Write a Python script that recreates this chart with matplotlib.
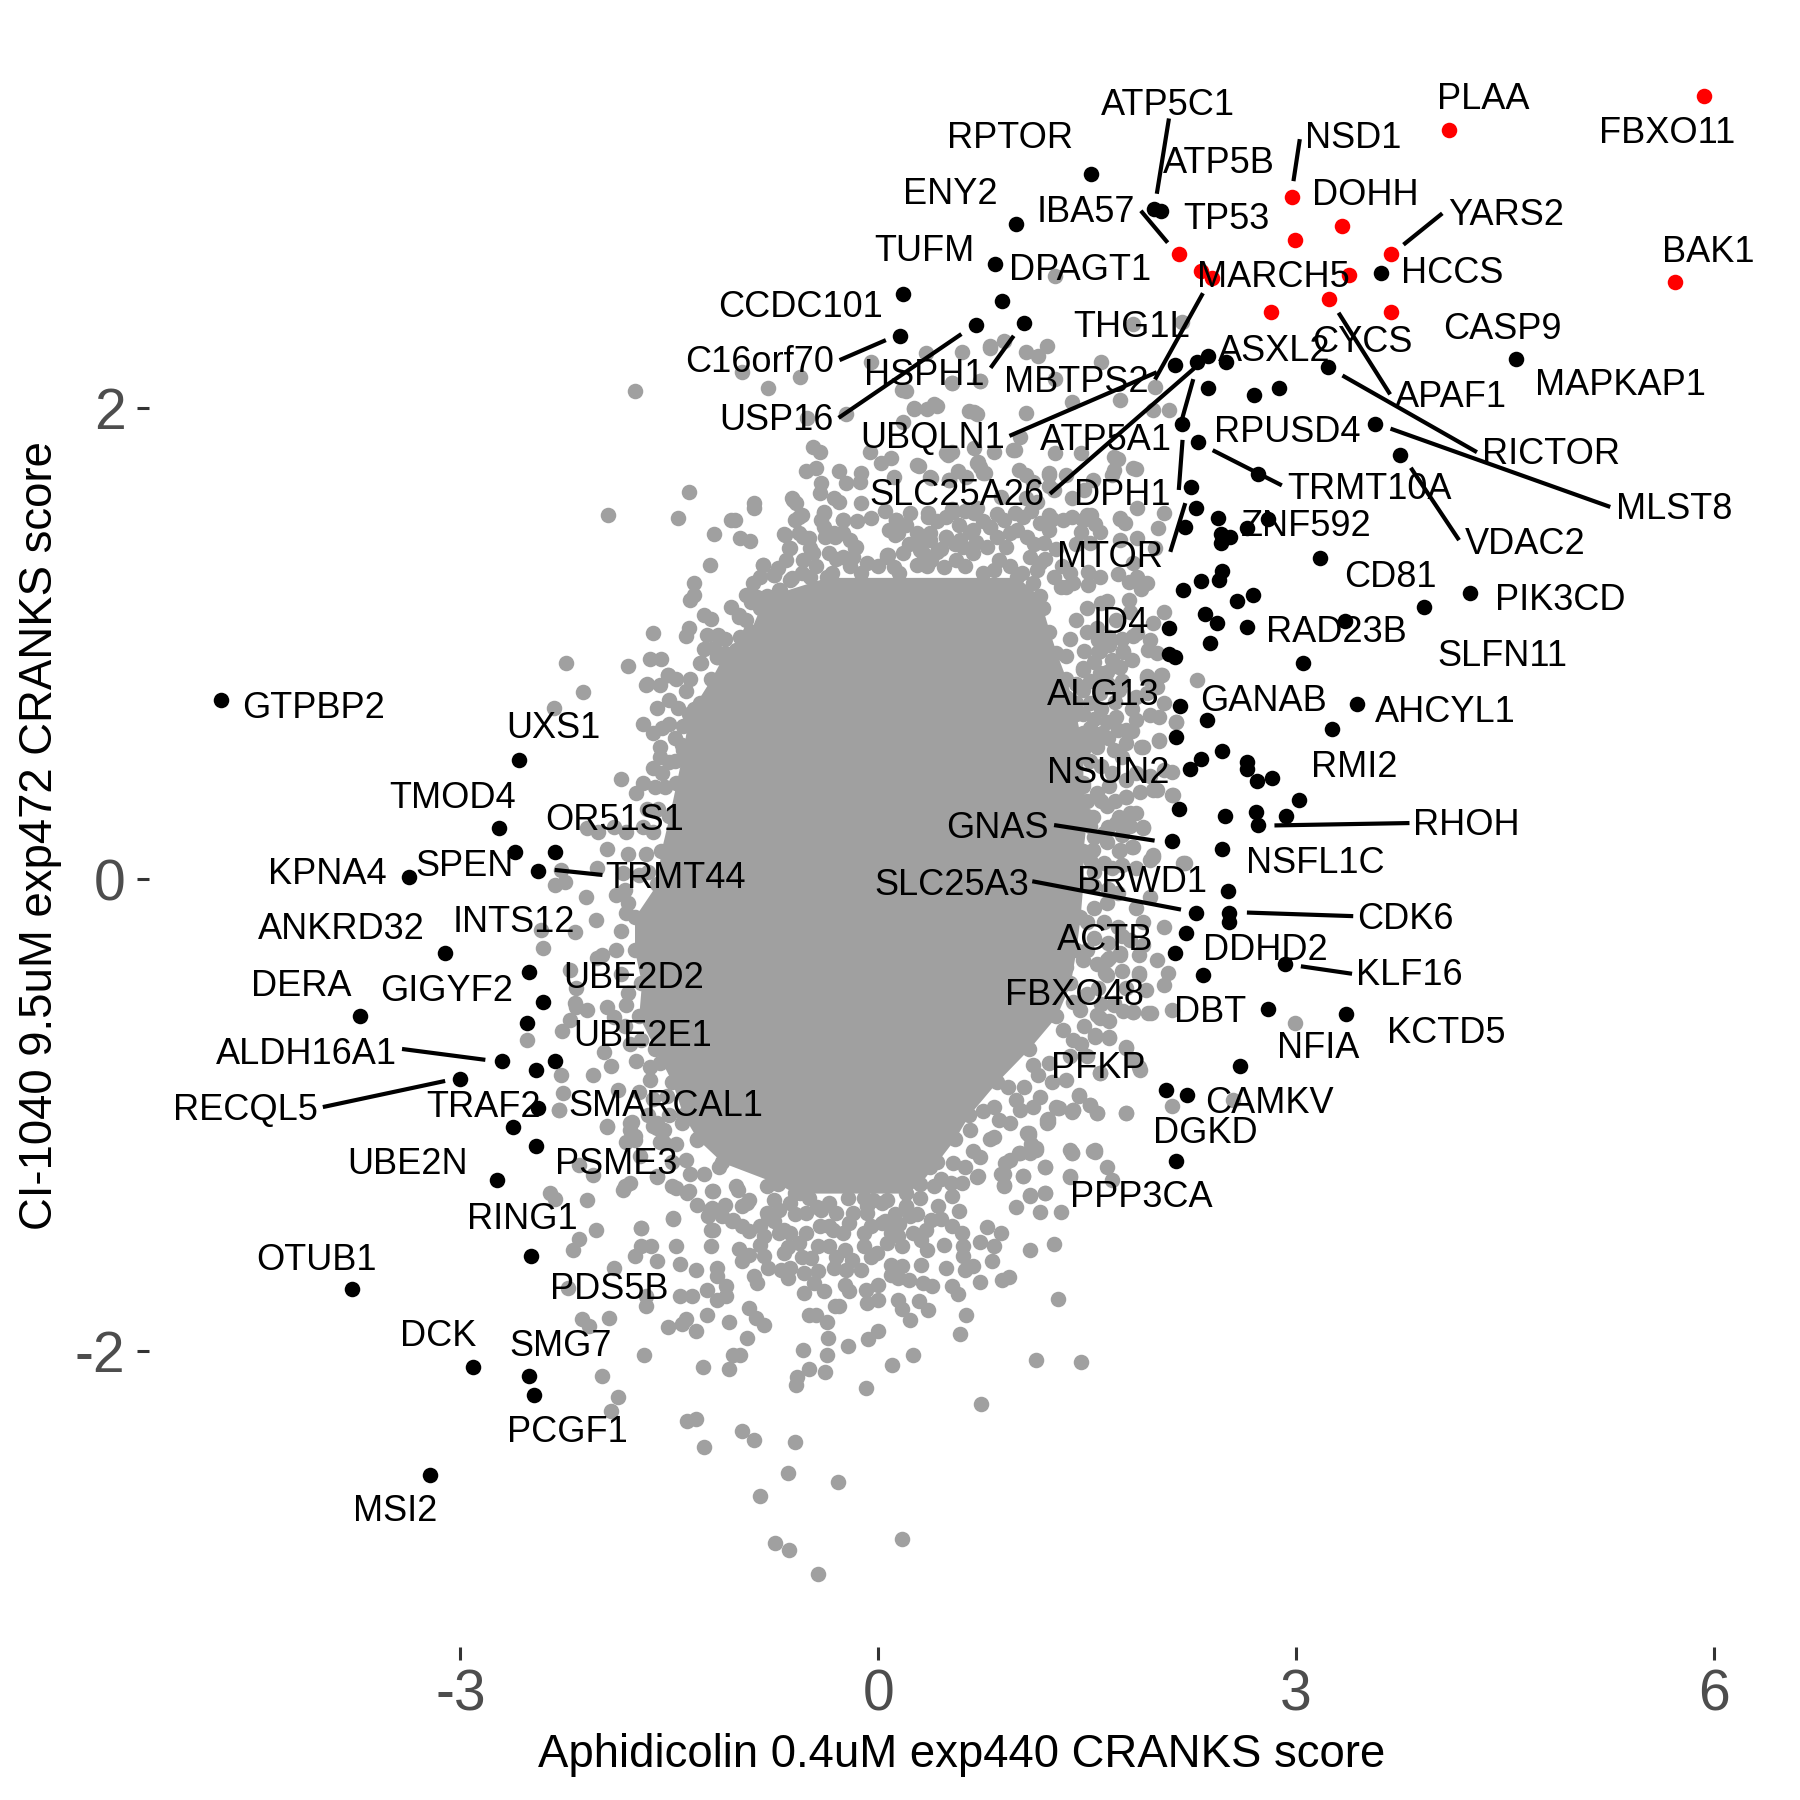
import matplotlib
matplotlib.use('Agg')
import matplotlib.pyplot as plt
from matplotlib.transforms import Affine2D
import numpy as np

plt.rcParams['font.family'] = ['Liberation Sans', 'DejaVu Sans']

# dense middle of the cloud, read row by row: y, left edge, right edge
core_y = [1.28, 1.2, 1.15, 1.05, 0.96, 0.85, 0.7, 0.55, 0.41, 0.27, 0.12, -0.02, -0.16, -0.30,
          -0.44, -0.58, -0.72, -0.86, -1.0, -1.1, -1.2, -1.29, -1.33]
core_left = [-0.37, -0.80, -0.85, -0.92, -1.10, -1.20, -1.36, -1.40, -1.45, -1.50, -1.56, -1.59,
             -1.75, -1.75, -1.70, -1.72, -1.60, -1.48, -1.40, -1.30, -1.12, -0.72, -0.60]
core_right = [1.0, 1.16, 1.18, 1.23, 1.28, 1.35, 1.42, 1.47, 1.47, 1.5, 1.47, 1.47,
              1.45, 1.42, 1.38, 1.28, 1.08, 0.85, 0.65, 0.55, 0.42, 0.30, 0.20]

# grey genes around the core
grey_top = [(-1.75,2.072),(-0.98,2.152),(-0.79,2.082),(-0.56,2.131),(-0.23,1.973),(-0.51,1.954),(-0.05,2.195),(0.17,2.074),
            (0.53,2.103),(0.73,2.113),(0.34,2.23),(0.60,2.237),(0.80,2.251),(0.26,1.992),(0.35,1.992),(0.42,2.007),
            (0.65,1.985),(0.71,1.971),(0.18,1.94),(-0.47,1.834),(-0.42,1.813),(-0.52,1.733),(-0.45,1.742),(-0.28,1.733),
            (-0.12,1.721),(-0.13,1.686),(-0.23,1.679),(-0.41,1.682),(-0.42,1.639),(-0.32,1.615),(-0.28,1.601),(-0.12,1.594),
            (-0.05,1.53),(-0.25,1.523),(-0.39,1.559),(-0.41,1.523),(-0.62,1.615),(-0.59,1.594),(-0.60,1.523),(-0.55,1.545),
            (-0.89,1.594),(-0.89,1.573),(-1.06,1.523),(-1.03,1.523),(-1.36,1.643),(-1.44,1.533),(-1.94,1.543),(-1.18,1.463),
            (-0.99,1.446),(-0.92,1.434),(-0.68,1.463),(-0.57,1.467),(-0.50,1.446),(-0.64,1.403),(-0.49,1.403),(-1.21,1.333),
            (-0.83,1.333),(-0.75,1.290),(-0.72,1.318),(-0.90,1.255),(-0.71,1.227),(-0.62,1.276),(-1.32,1.255),(-1.35,1.184),
            (-1.32,1.205),(-0.95,1.205),(-0.91,1.177),(-0.87,1.198),(-1.06,1.156),(-1.00,1.114),(-1.20,1.104),(-1.36,1.064),
            (-1.38,1.032),(-1.62,1.046),(-1.23,1.036),(-1.15,1.036),(-0.99,1.029),(-0.89,1.047),(-1.64,0.934),(-1.56,0.934),
            (-1.80,0.906),(-2.24,0.916),(-2.12,0.796),(-1.51,0.866),(-1.67,0.824),(-1.57,0.824),(-1.25,0.975),(-1.16,0.944),
            (-1.27,0.916),(-1.06,0.923),(-1.02,0.972),(-0.06,1.813),(0.02,1.764),(0.09,1.785),(0.29,1.754),(0.11,1.707),
            (0.38,1.700),(0.51,1.693),(0.50,1.799),(0.72,1.771),(0.77,1.721),(0.63,1.707),(0.71,1.573),(0.54,1.559),
            (0.13,1.523),(0.14,1.467),(0.30,1.439),(0.37,1.467),(0.49,1.453),(0.49,1.538),(0.36,1.552),(0.23,1.552),
            (0.07,1.375),(-0.16,1.410),(-0.18,1.368),(-0.25,1.467),(-0.32,1.467),(0.32,1.382),(0.38,1.354),(0.66,1.474),
            (0.80,1.495),(0.59,1.439),(1.27,2.559),(1.83,2.356),(2.18,2.364),(1.21,2.259),(1.15,2.218),(1.06,2.235),
            (0.80,2.259),(0.90,2.283),(1.60,2.194),(1.27,2.121),(1.39,2.024),(1.06,1.975),(0.69,1.983),(0.40,2.016),
            (0.26,2.0),(0.73,2.113),(0.53,2.105),(0.20,2.072),(1.99,2.089),(1.97,1.991),(2.09,1.991),(1.74,2.032),
            (0.98,1.821),(0.69,1.829),(0.53,1.813),(0.28,1.756),(0.57,1.732),(0.73,1.748),(1.85,1.740),(1.72,1.780),
            (1.68,1.716),(1.23,1.724),(1.06,1.716),(2.05,1.553),(2.01,1.488),(1.74,1.529),(1.74,1.440),(1.56,1.505),
            (1.39,1.537),(1.25,1.529),(1.50,1.545),(1.83,1.342),(1.72,1.294),(1.89,1.229),(2.05,1.132),(1.81,1.132),
            (1.64,1.180),(1.52,1.424),(0.98,1.553),(0.69,1.553),(0.53,1.570),(0.36,1.537),(1.06,1.618),(1.23,1.667),(1.48,1.651)]

# upper band between the core and the sparse top
grey_upper = [(0.37,1.707),(0.51,1.693),(0.71,1.763),(0.75,1.721),(0.83,1.813),(0.97,1.82),(1.02,1.876),(0.49,1.806),
              (1.01,1.735),(1.11,1.686),(1.23,1.714),(1.35,1.714),(1.46,1.806),(1.27,1.806),(1.69,1.79),(1.69,1.735),
              (1.83,1.742),(1.54,1.693),(1.39,1.615),(1.26,1.65),(1.86,1.573),(1.23,1.544),(1.33,1.523),(1.47,1.523),
              (1.53,1.544),(1.46,1.474),(1.59,1.474),(1.74,1.53),(1.77,1.509),(1.86,1.445),(1.99,1.403),(1.93,1.255),
              (1.80,1.262),(1.51,1.304),(1.59,1.283),(1.51,1.248),(1.80,1.184),(1.86,1.283),(1.40,1.255),(1.31,1.24),
              (1.57,1.064),(1.66,1.029),(1.76,0.965),(1.58,0.965),(1.71,1.099),(1.86,1.043),(1.94,0.972),(1.74,0.901),
              (1.47,0.894),(1.64,0.88),(1.59,0.831),(1.97,1.085),(0.13,1.523),(0.12,1.459),(0.28,1.467),(0.37,1.438),
              (0.49,1.452),(0.42,1.389),(0.30,1.396),(0.18,1.382),(0.06,1.375),(0.11,1.325),(0.28,1.332),(0.68,1.481),
              (0.80,1.495),(0.90,1.523),(1.04,1.537),(1.16,1.509),(1.23,1.481),(0.68,1.382),(0.61,1.41),(0.78,1.41),
              (0.92,1.41),(0.87,1.354),(1.07,1.452),(1.19,1.424),(1.09,1.368),(1.14,1.311),(1.26,1.283),(1.35,1.24),
              (1.11,1.255),(1.16,1.339),(0.83,1.311),(0.56,1.354),(0.47,1.325),(-0.825,1.332),(-0.75,1.29),(-0.705,1.226),
              (-0.63,1.269),(-0.54,1.353),(-0.54,1.452),(-0.67,1.459),(-0.63,1.403),(-0.61,1.608),(-0.57,1.537),(-0.39,1.551),
              (-0.39,1.495),(-0.31,1.452),(-0.25,1.523),(-0.466,1.382),(-0.35,1.382),(-0.17,1.403),(-0.25,1.368),(-0.08,1.34),
              (0.06,1.368),(-0.66,1.354),(-0.335,1.297),(-0.49,1.283),(-0.2,1.33),(-0.12,1.30),(0.0,1.33),(0.15,1.30),
              (0.22,1.42),(0.35,1.33),(0.45,1.40),(0.55,1.42),(0.62,1.33),(0.70,1.43),(0.75,1.30),(0.85,1.45),
              (0.95,1.33),(1.0,1.48),(1.03,1.30),(1.12,1.42),(1.2,1.36),(1.28,1.40),(1.32,1.33),(1.38,1.30),
              (1.42,1.42),(-0.55,1.30),(-0.45,1.33),(-0.38,1.45),(-0.30,1.36),(-0.2,1.44),(0.08,1.48),(0.2,1.50),
              (0.42,1.52),(0.58,1.50),(0.75,1.52),(0.85,1.55),(0.95,1.47),(1.1,1.56),(-0.15,1.52),(0.05,1.56),
              (0.62,1.56),(0.88,1.62),(1.14,1.60),(-1.25,1.12),(-1.1,1.02),(-1.0,1.12),(-0.85,1.28),(-0.95,1.1),
              (-1.18,0.98),(-1.35,0.85),(-1.32,0.72)]

grey_right = [(2.29,0.845),(2.04,0.866),(1.93,0.852),(2.0,0.817),(2.14,0.668),(2.02,0.590),(1.90,0.562),(1.78,0.633),
              (2.11,0.456),(2.0,0.379),(2.12,0.357),(1.78,0.350),(1.85,0.280),(1.78,0.251),(1.90,0.223),(1.97,0.096),
              (1.83,0.138),(1.74,0.124),(2.20,0.068),(1.95,-0.074),(1.64,-0.102),(2.05,-0.201),(1.81,-0.257),(2.0,-0.342),
              (2.08,-0.399),(2.05,-0.448),(1.87,-0.406),(1.64,-0.406),(1.74,-0.314),(1.66,-0.335),(2.11,-0.554),(1.96,-0.568),
              (1.83,-0.561),(1.69,-0.533),(1.59,-0.589),(2.99,-0.611),(1.66,-0.674),(1.56,-0.667),(1.78,-0.709),(1.83,-0.766),
              (1.88,-0.808),(1.59,-0.822),(2.55,-0.936),(2.11,-0.961),(1.78,-0.989),(1.57,-0.992),(1.52,-0.957),(1.44,-0.914),
              (1.29,-0.971),(1.22,-1.027),(1.39,-0.985),(1.08,-1.084),(1.56,-1.148),(1.38,-1.148),(1.35,0.945),(1.47,0.888),
              (1.59,0.874),(1.73,0.902),(1.59,0.966),(1.76,0.966),(1.93,0.86),(2.03,0.867),(1.66,0.994),(1.83,1.03),
              (1.95,1.015),(2.0,0.959),(1.58,1.015),(1.93,0.789),(1.85,0.775),(1.73,0.803),(1.59,0.789),(1.47,0.803),
              (1.35,0.775),(2.05,0.747),(2.02,0.69),(1.95,0.697),(1.85,0.676),(1.71,0.69),(1.64,0.669),(1.52,0.747),
              (1.42,0.747),(1.82,0.627),(1.72,0.634),(1.61,0.62),(1.52,0.641),(1.47,0.62),(1.89,0.563),(1.78,0.577),
              (1.69,0.549),(1.57,0.563),(1.47,0.57),(2.02,0.588),(2.14,0.669),(1.97,0.379),(2.11,0.358),(2.05,0.464),
              (1.95,0.436),(1.85,0.45),(1.78,0.422),(1.66,0.394),(1.57,0.365),(1.78,0.351),(1.47,0.394),(1.81,0.28),
              (1.73,0.266),(1.64,0.309),(1.54,0.266),(1.47,0.252),(1.38,0.266),(1.90,0.217),(1.81,0.224),(1.71,0.238),
              (1.62,0.196),(1.52,0.224),(1.42,0.182),(1.82,0.139),(1.73,0.118),(1.64,0.16),(1.54,0.125),(1.97,0.104),
              (1.95,0.083),(1.62,0.068),(1.52,0.083),(2.19,0.068),(1.5,1.15),(1.6,1.17),(1.42,1.10),(1.38,1.02),
              (1.50,1.05),(1.48,0.97),(1.68,0.93),(1.55,0.92),(1.75,1.02),(1.82,0.93),(1.42,0.83),(1.52,0.84),
              (1.65,0.83),(1.75,0.84),(1.82,0.72),(1.6,0.72),(1.7,0.75),(1.47,0.70),(1.55,0.68),(1.65,0.60),
              (1.55,0.60),(1.75,0.52),(1.6,0.48),(1.52,0.50),(1.68,0.45),(1.5,0.33),(1.6,0.33),(1.7,0.33),
              (1.88,0.37),(1.55,0.18),(1.65,0.22),(1.75,0.19),(1.55,0.03),(1.68,0.05),(1.75,0.06),(1.85,0.05)]

# lower right edge of the core
grey_lower_right = [(1.35,-0.371),(1.47,-0.342),(1.64,-0.342),(1.63,-0.399),(1.74,-0.321),(1.87,-0.321),(1.87,-0.399),(1.35,-0.441),
                    (1.50,-0.484),(1.69,-0.526),(1.83,-0.561),(1.94,-0.568),(1.57,-0.576),(1.45,-0.554),(1.33,-0.639),(1.40,-0.682),
                    (1.46,-0.696),(1.56,-0.66),(1.66,-0.67),(1.78,-0.717),(1.87,-0.795),(1.59,-0.823),(1.11,-0.787),(1.23,-0.78),
                    (1.35,-0.851),(1.44,-0.917),(1.28,-0.964),(1.40,-0.978),(1.52,-0.957),(1.57,-0.992),(1.78,-0.99),(1.22,-1.014),
                    (1.21,-1.035),(1.07,-1.077),(1.10,-1.12),(1.13,-1.148),(1.02,-1.162),(1.39,-1.162),(1.56,-1.155),(1.64,-1.218),
                    (1.38,-1.261),(1.20,-1.218),(1.04,-1.258),(0.90,-1.296),(1.09,-1.339),(1.20,-1.331),(1.68,-1.275),(0.95,-1.19),
                    (0.88,-1.247),(0.71,-1.261),(0.52,-1.289),(1.16,-0.922),(1.11,-0.964),(0.99,-0.936),(0.95,-1.035),(0.83,-0.964),
                    (0.83,-1.091),(0.66,-1.063),(0.73,-1.176),(0.54,-1.204),(0.37,-1.218),(1.02,-0.978),(1.55,-0.03),(1.65,-0.04),
                    (1.72,-0.06),(1.85,-0.12),(1.55,-0.12),(1.5,-0.18),(1.62,-0.18),(1.72,-0.2),(1.9,-0.18),(1.55,-0.25),
                    (1.65,-0.27),(1.75,-0.24),(1.9,-0.28),(1.5,-0.3),(1.57,-0.36),(1.75,-0.39),(1.58,-0.46),(1.78,-0.46),
                    (1.92,-0.47),(1.4,-0.52),(1.6,-0.53),(1.76,-0.56),(1.66,-0.6),(1.48,-0.62),(1.38,-0.75),(1.5,-0.75),
                    (1.25,-0.86),(1.15,-0.83),(1.05,-0.88),(0.93,-0.88),(0.87,-1.02),(0.75,-0.98),(0.8,-1.1),(0.68,-1.15),
                    (0.62,-1.22),(0.45,-1.27)]

grey_left = [(-2.33,0.725),(-1.69,0.658),(-1.62,0.619),(-1.57,0.562),(-1.57,0.520),(-1.50,0.499),(-1.46,0.598),(-1.41,0.569),
             (-1.85,0.425),(-1.69,0.407),(-1.74,0.364),(-1.60,0.393),(-1.53,0.393),(-2.09,0.216),(-2.01,0.202),(-1.81,0.202),
             (-1.90,0.223),(-1.69,0.223),(-1.95,0.127),(-1.80,0.107),(-1.67,0.107),(-2.28,0.039),(-2.02,0.046),(-2.32,-0.024),
             (-2.25,-0.010),(-1.83,0.025),(-2.10,-0.074),(-1.88,-0.067),(-1.82,-0.045),(-2.03,-0.173),(-1.81,-0.144),(-2.18,-0.222),
             (-2.42,-0.215),(-2.41,-0.293),(-1.98,-0.321),(-2.02,-0.335),(-2.21,-0.385),(-2.17,-0.462),(-2.18,-0.526),(-1.81,-0.533),
             (-1.95,-0.540),(-2.09,-0.554),(-2.17,-0.540),(-2.21,-0.596),(-2.27,-0.642),(-2.52,-0.681),(-1.90,-0.582),(-1.97,-0.731),
             (-1.92,-0.791),(-2.05,-0.830),(-2.28,-0.830),(-2.26,-0.907),(-2.29,-0.978),(-1.87,-0.893),(-1.95,-1.049),(-1.77,-1.027),
             (-1.59,-1.034),(-1.57,-1.112),(-1.81,-1.112),(-1.66,0.83),(-1.51,0.866),(-1.59,0.725),(-1.44,0.725),(-1.28,0.746),
             (-1.28,0.915),(-1.16,0.944),(-1.74,-0.772),(-1.64,-0.794),(-1.57,-0.779),(-1.47,-0.765),(-1.64,-0.85),(-1.78,-1.034),
             (-1.75,-1.09),(-1.59,-1.055),(-1.54,-1.119),(-1.59,-1.26),(-1.82,-1.302),(-1.45,-1.309),(-1.36,-1.323),(-1.185,-1.323),
             (-1.02,-1.302),(-0.945,-1.373),(-1.21,-1.401),(-1.185,-1.486),(-1.04,-1.444),(-0.80,-1.415),(-0.71,-1.50),(-0.56,-1.33),
             (-0.44,-1.387),(-0.325,-1.486),(-0.18,-1.415),(-0.04,-1.359),(0.06,-1.359),(0.20,-1.387),(-1.14,-1.218),(-1.30,-1.104),
             (-1.41,-1.034),(-1.38,-1.19),(-0.80,-1.302),(-1.70,-1.479),(-1.47,-1.436),(-1.45,0.85),(-1.38,0.8),(-1.5,0.76),
             (-1.40,0.65),(-1.5,0.66),(-1.55,0.64),(-1.46,0.50),(-1.55,0.45),(-1.62,0.47),(-1.66,0.3),(-1.58,0.3),
             (-1.62,0.2),(-1.72,0.02),(-1.65,0.03),(-1.8,-0.1),(-1.85,-0.22),(-1.88,-0.3),(-1.85,-0.4),(-1.8,-0.48),
             (-1.82,-0.62),(-1.78,-0.7),(-1.7,-0.68),(-1.72,-0.9),(-1.62,-0.93),(-1.52,-0.92),(-1.65,-1.0),(-1.5,-1.0),
             (-1.45,-1.12),(-1.48,-1.2),(-1.35,-1.25),(-1.25,-1.25),(-1.1,-1.38),(-1.3,-1.38)]

grey_bottom = [(-0.43,-2.943),(0.17,-2.795),(-0.74,-2.813),(-0.64,-2.844),(-0.85,-2.615),(-0.65,-2.517),(-0.29,-2.555),(-0.60,-2.385),
               (-0.89,-2.375),(-0.98,-2.34),(-1.25,-2.406),(-1.37,-2.298),(-1.31,-2.286),(0.74,-2.225),(-1.92,-2.255),(-1.87,-2.196),
               (-1.98,-2.105),(-0.09,-2.156),(-0.59,-2.142),(-0.585,-2.11),(-0.50,-2.077),(-0.38,-2.087),(-0.37,-2.018),(0.10,-2.057),
               (0.25,-2.018),(-0.54,-1.997),(-0.22,-1.977),(-0.36,-1.946),(-0.07,-1.947),(0.0,-1.916),(1.13,-2.036),(1.46,-2.046),
               (0.59,-1.927),(0.63,-1.847),(1.29,-1.778),(-1.07,-2.076),(-1.26,-2.066),(-1.04,-2.018),(-0.99,-2.015),(-1.68,-2.016),
               (-0.94,-1.946),(-1.31,-1.916),(-1.51,-1.898),(-1.41,-1.884),(-1.38,-1.864),(-1.23,-1.847),(-1.07,-1.876),(-0.93,-1.817),
               (-0.88,-1.86),(-0.82,-1.888),(-1.93,-1.858),(-2.13,-1.864),(-2.08,-1.895),(-0.50,-1.848),(-0.45,-1.848),(-0.37,-1.876),
               (-0.31,-1.81),(-0.28,-1.807),(0.23,-1.867),(0.17,-1.821),(0.14,-1.782),(0.36,-1.827),(0.29,-1.786),(-0.08,-1.796),
               (0.0,-1.782),(-0.53,-1.754),(-0.39,-1.746),(-0.21,-1.746),(-0.24,-1.718),(-0.09,-1.739),(0.0,-1.718),(0.32,-1.711),
               (0.39,-1.725),(0.22,-1.697),(0.14,-1.69),(0.09,-1.633),(0.17,-1.64),(0.09,-1.676),(0.31,-1.636),(0.57,-1.758),
               (0.53,-1.725),(0.49,-1.648),(0.73,-1.708),(0.68,-1.64),(0.62,-1.655),(0.89,-1.70),(0.94,-1.687),(0.82,-1.618),
               (0.83,-1.556),(0.88,-1.499),(0.78,-1.475),(0.73,-1.539),(1.09,-1.57),(1.26,-1.547),(0.47,-1.549),(1.31,-1.409),
               (1.16,-1.409),(0.99,-1.389),(1.09,-1.341),(1.20,-1.33),(1.38,-1.259),(1.20,-1.219),(1.04,-1.259),(1.39,-1.16),
               (1.54,-1.153),(0.90,-1.299),(0.90,-1.248),(0.58,-1.407),(0.53,-1.468),(0.60,-1.499),(0.61,-1.556),(0.61,-1.598),
               (-0.89,-1.683),(-0.87,-1.711),(-1.16,-1.648),(-1.16,-1.683),(-1.23,-1.739),(-1.09,-1.725),(-1.16,-1.782),(-1.09,-1.768),
               (-1.42,-1.768),(-1.34,-1.768),(-1.31,-1.657),(-1.42,-1.629),(-1.67,-1.81),(-1.67,-1.768),(-2.23,-1.732),(-1.90,-1.648),
               (-1.59,-1.616),(-1.75,-1.598),(-1.70,-1.556),(-1.63,-1.556),(-1.45,-1.556),(-1.20,-1.556),(-1.70,-1.478),(-1.47,-1.438),
               (-2.19,-1.57),(-2.15,-1.525),(-2.03,-1.488),(-2.09,-1.358),(-2.36,-1.33),(-2.32,-1.355),(-1.83,-1.315),(-1.78,-1.287),
               (-1.59,-1.259),(-2.05,-1.252),(-2.15,-1.21),(-1.22,-1.429),(-1.19,-1.393),(-1.12,-1.429),(-1.20,-1.488),(-1.05,-1.45),
               (-0.98,-1.386),(-0.93,-1.358),(-0.98,-1.471),(-0.93,-1.492),(-0.85,-1.471),(-0.79,-1.429),(-0.71,-1.40),(-0.63,-1.372),
               (-0.68,-1.485),(-0.82,-1.513),(-0.85,-1.549),(-1.0,-1.566),(-0.93,-1.591),(-0.98,-1.619),(-0.82,-1.598),(-0.79,-1.648),
               (-0.70,-1.655),(-0.63,-1.648),(-0.65,-1.69),(-0.53,-1.669),(-0.43,-1.662),(-0.46,-1.711),(-0.63,-1.499),(-0.52,-1.499),
               (-0.57,-1.542),(-0.68,-1.584),(-0.43,-1.556),(-0.35,-1.556),(-0.48,-1.605),(-0.32,-1.648),(-0.23,-1.655),(-0.12,-1.655),
               (-0.24,-1.57),(-0.10,-1.556),(-0.19,-1.612),(-0.35,-1.471),(-0.21,-1.457),(-0.08,-1.414),(-0.10,-1.499),(0.03,-1.457),
               (0.09,-1.499),(0.06,-1.542),(0.17,-1.556),(0.14,-1.513),(0.25,-1.499),(0.34,-1.485),(0.38,-1.443),(0.35,-1.57),
               (0.31,-1.527),(-0.01,-1.584),(-0.08,-1.386),(-0.52,-1.414),(-0.41,-1.40),(-0.30,-1.414),(0.20,-1.386),(0.23,-1.429),
               (0.43,-1.386),(0.03,-1.372),(0.72,-1.259),(0.60,-1.287),(0.53,-1.344),(0.91,-1.202),(1.01,-1.16),(1.13,-1.139),
               (1.08,-1.075),(1.09,-1.16),(1.21,-1.019),(1.30,-0.969),(1.40,-0.976),(-1.48,-1.301),(-1.37,-1.33),(-1.19,-1.323),
               (-1.01,-1.315),(-1.78,-1.061),(-1.75,-1.104),(-1.62,-1.047),(-1.54,-1.061),(-1.54,-1.118),(-1.71,-1.174),(-1.95,-1.047),(-2.29,-0.976),
               (-0.6,-1.42),(-0.35,-1.37),(-0.22,-1.35),(-0.1,-1.35),(0.05,-1.45),(0.12,-1.42),(0.3,-1.35),(0.4,-1.3),
               (-0.75,-1.36),(-0.5,-1.35),(-0.65,-1.56),(-0.75,-1.45),(-0.25,-1.5),(-0.05,-1.47),(0.15,-1.46),(0.28,-1.42),
               (0.45,-1.44),(-0.42,-1.47),(-0.55,-1.6),(-0.3,-1.6),(-0.05,-1.6)]

# labelled hits
black_pts = [(-4.72,0.759),(-2.58,0.506),(-2.72,0.219),(-2.61,0.117),(-2.32,0.117),(-2.44,0.034),(-3.37,0.01),(-3.11,-0.311),
             (-2.51,-0.394),(-2.41,-0.521),(-2.52,-0.608),(-3.72,-0.579),(-2.70,-0.769),(-2.46,-0.808),(-2.32,-0.769),(-3.00,-0.847),
             (-2.44,-0.968),(-2.62,-1.051),(-2.46,-1.129),(-2.74,-1.275),(-2.49,-1.596),(-3.78,-1.737),(-2.91,-2.068),(-2.51,-2.107),
             (-2.47,-2.185),(-3.22,-2.526),(1.53,2.988),(1.98,2.842),(2.03,2.832),(0.99,2.779),(0.84,2.608),(0.18,2.482),
             (0.89,2.453),(1.05,2.36),(0.70,2.35),(0.16,2.302),(3.61,2.569),(4.58,2.204),(3.23,2.170),(2.13,2.18),
             (2.29,2.195),(2.37,2.219),(2.50,2.195),(2.37,2.083),(2.70,2.054),(2.88,2.083),(2.18,1.932),(2.30,1.854),
             (3.57,1.932),(3.75,1.80),(2.73,1.718),(2.25,1.664),(2.28,1.572),(2.20,1.494),(2.44,1.533),(2.80,1.528),
             (2.65,1.489),(2.46,1.465),(2.46,1.426),(2.53,1.450),(3.17,1.363),(2.47,1.309),(2.45,1.270),(2.32,1.265),
             (2.19,1.226),(2.69,1.207),(2.58,1.178),(4.25,1.212),(3.92,1.153),(2.35,1.124),(2.43,1.085),(2.65,1.071),
             (3.35,1.095),(2.09,1.066),(2.38,1.0),(3.05,0.915),(2.09,0.954),(2.13,0.944),(2.17,0.735),(3.44,0.745),
             (2.36,0.676),(3.26,0.637),(2.14,0.603),(2.47,0.545),(2.32,0.511),(2.24,0.467),(2.65,0.496),(2.65,0.467),
             (2.72,0.418),(2.83,0.428),(3.02,0.336),(2.16,0.297),(2.49,0.268),(2.71,0.287),(2.73,0.229),(2.93,0.268),
             (2.11,0.161),(2.47,0.127),(2.51,-0.049),(2.28,-0.141),(2.52,-0.141),(2.52,-0.18),(2.21,-0.229),(2.13,-0.311),
             (2.33,-0.404),(2.92,-0.36),(2.80,-0.55),(3.36,-0.569),(2.60,-0.793),(2.07,-0.891),(2.22,-0.915),(2.14,-1.192)]

red_pts = [(5.93,3.319),(4.10,3.178),(2.97,2.891),(3.33,2.769),(2.99,2.71),(3.68,2.652),(2.16,2.652),(2.32,2.58),
           (2.40,2.55),(3.38,2.56),(5.72,2.53),(3.24,2.462),(2.82,2.404),(3.68,2.404)]

x_ticks = [-3, 0, 3, 6]
y_ticks = [-2, 0, 2]
x_title = 'Aphidicolin 0.4uM exp440 CRANKS score'
y_title = 'CI-1040 9.5uM exp472 CRANKS score'

# gene names with their centre on the 1568 px view of the figure
labels = [('PLAA',1292,85),('FBXO11',1452,114),('BAK1',1488,218),('ATP5C1',1017,90),('RPTOR',880,119),('NSD1',1179,119),
          ('ATP5B',1062,140),('ENY2',828,167),('DOHH',1189,168),('IBA57',946,183),('TP53',1068,189),('YARS2',1312,186),
          ('TUFM',805,217),('DPAGT1',941,234),('HCCS',1265,236),('MARCH5',1109,240),('CCDC101',697,266),('THG1L',986,283),
          ('CASP9',1309,285),('CYCS',1187,296),('ASXL2',1110,304),('C16orf70',662,314),('HSPH1',805,325),('MBTPS2',938,331),
          ('MAPKAP1',1412,334),('APAF1',1264,344),('USP16',676,364),('RPUSD4',1121,375),('UBQLN1',812,380),('ATP5A1',963,382),
          ('RICTOR',1351,394),('TRMT10A',1193,424),('SLC25A26',834,430),('DPH1',978,430),('MLST8',1458,442),('ZNF592',1138,457),
          ('VDAC2',1329,472),('MTOR',967,484),('CD81',1211,501),('PIK3CD',1359,521),('ID4',976,541),('RAD23B',1164,549),
          ('SLFN11',1309,570),('ALG13',961,604),('GANAB',1101,609),('AHCYL1',1259,619),('GTPBP2',273,615),('UXS1',482,633),
          ('RMI2',1180,667),('NSUN2',965,672),('TMOD4',394,694),('OR51S1',535,713),('GNAS',869,720),('RHOH',1277,717),
          ('NSFL1C',1146,750),('SPEN',405,753),('KPNA4',285,760),('TRMT44',588,763),('BRWD1',995,767),('SLC25A3',829,769),
          ('CDK6',1224,799),('INTS12',448,802),('ANKRD32',297,808),('ACTB',963,817),('DDHD2',1102,826),('KLF16',1228,848),
          ('UBE2D2',552,850),('DERA',262,857),('GIGYF2',389,862),('FBXO48',936,865),('DBT',1054,880),('KCTD5',1260,898),
          ('UBE2E1',560,901),('NFIA',1148,911),('ALDH16A1',267,917),('PFKP',957,929),('CAMKV',1106,959),('SMARCAL1',580,962),
          ('TRAF2',421,963),('RECQL5',214,965),('DGKD',1050,985),('UBE2N',355,1012),('PSME3',537,1012),('PPP3CA',994,1041),
          ('RING1',455,1060),('OTUB1',276,1096),('PDS5B',531,1121),('DCK',382,1162),('SMG7',488,1171),('PCGF1',494,1246),
          ('MSI2',344,1315)]

# repel connectors, same 1568 px view
segments = [(733,313,770,297),(732,363,836,292),(864,319,882,294),(1018,105,1008,167),(1132,123,1127,156),(995,185,1016,210),
            (1255,187,1224,212),(1047,257,1007,329),(881,379,1006,325),(916,429,1039,322),(1030,364,1039,332),(1027,425,1030,385),
            (1020,479,1032,440),(1058,393,1115,422),(1167,274,1210,342),(1171,328,1285,393),(1213,374,1401,441),(1230,409,1270,469),
            (920,719,1004,732),(901,768,1027,792),(1112,719,1226,717),(1088,795,1177,798),(1135,842,1176,848),(485,758,523,762),
            (352,914,421,923),(283,964,386,942)]

fig = plt.figure(figsize=(18, 18), dpi=100)
# panel edges in the 1568 px view
px_left, px_right, px_top, px_bottom = 130, 1530, 40, 1435
ax = fig.add_axes([px_left / 1568, 1 - px_bottom / 1568, (px_right - px_left) / 1568, (px_bottom - px_top) / 1568])
ax.set_xlim((px_left - 765) / 121.3, (px_right - 765) / 121.3)
ax.set_ylim((766 - px_bottom) / 205.5, (766 - px_top) / 205.5)

grey = '#A0A0A0'
size = 125
ax.fill_betweenx(core_y, core_left, core_right, color=grey, lw=0, zorder=1)
ax.scatter(core_left + core_right, core_y + core_y, s=size, c=grey, linewidths=0, zorder=1)
for pts in [grey_top, grey_upper, grey_right, grey_lower_right, grey_left, grey_bottom]:
    pts = np.array(pts)
    ax.scatter(pts[:, 0], pts[:, 1], s=size, c=grey, linewidths=0, zorder=1)
black_pts = np.array(black_pts)
red_pts = np.array(red_pts)
ax.scatter(black_pts[:, 0], black_pts[:, 1], s=size, c='black', linewidths=0, zorder=2)
ax.scatter(red_pts[:, 0], red_pts[:, 1], s=size, c='red', linewidths=0, zorder=3)

for s in ax.spines.values():
    s.set_visible(False)
ax.set_xticks(x_ticks)
ax.set_xticklabels([str(t) for t in x_ticks])
ax.set_yticks(y_ticks)
ax.set_yticklabels([str(t) for t in y_ticks])
ax.tick_params(length=9, width=2.2, color='#333333', labelcolor='#4D4D4D', labelsize=41)
ax.tick_params(axis='x', pad=6.5)
ax.tick_params(axis='y', pad=8)

# view coordinates to display
view = Affine2D().scale(1800 / 1568, -1800 / 1568).translate(0, 1800)
for x1, y1, x2, y2 in segments:
    fig.add_artist(plt.Line2D([x1, x2], [y1, y2], color='black', lw=3, transform=view, zorder=5))
for name, x, y in labels:
    fig.text(x, y + 2, name, transform=view, ha='center', va='center', fontsize=26, color='black', zorder=6)

fig.text(838, 1529, x_title, transform=view, ha='center', va='center', fontsize=32.8)
fig.text(35, 728, y_title, transform=view, ha='center', va='center', rotation=90, fontsize=32.8)

fig.savefig('out.png', dpi=100)
